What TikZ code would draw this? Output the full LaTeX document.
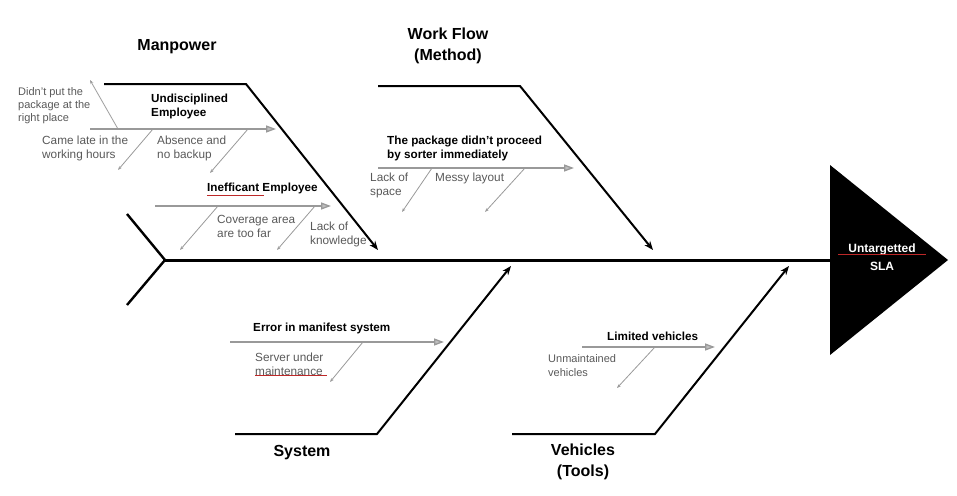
\documentclass[tikz,border=0pt]{standalone}
\usepackage{fontspec}
\setmainfont{Liberation Sans}
\usetikzlibrary{arrows.meta}
\definecolor{spellred}{RGB}{190,40,40}
\begin{document}
\begin{tikzpicture}[x=1pt,y=-1pt,
  spine/.style={line width=3pt, black},
  bone/.style={line width=2pt, black},
  bonearrow/.style={bone, -{Stealth[length=9pt,width=7pt]}},
  cause/.style={line width=1.3pt, black!40, -{Triangle[length=10pt,width=7pt,fill=black!25]}},
  sub/.style={line width=0.8pt, black!40, -{Stealth[length=4pt,width=3pt]}},
  boneLabel/.style={font=\bfseries\fontsize{16}{21}\selectfont, align=center, inner sep=0},
  causeLabel/.style={font=\bfseries\fontsize{11.7}{14}\selectfont, align=left, inner sep=0, anchor=west},
  subLabel/.style={font=\fontsize{11.8}{14}\selectfont, text=black!65, align=left, inner sep=0, anchor=west},
  spell/.style={draw=spellred, line width=0.7pt}
]
\useasboundingbox (0,0) rectangle (957,495);

% spine, tail, head
\coordinate (tailTop) at (127,214);
\coordinate (tailBot) at (127,305);
\coordinate (spineStart) at (165,260);
\coordinate (headBase) at (830,260);
\coordinate (headTop) at (830,165);
\coordinate (headTip) at (948,260);
\coordinate (headBot) at (830,355);
\fill[black] (headTop) -- (headTip) -- (headBot) -- cycle;
\draw[spine] (spineStart) -- (headBase);
\draw[bone, line width=2.4pt] (tailTop) -- (spineStart) -- (tailBot);
\node[font=\bfseries\fontsize{12}{18}\selectfont, text=white, align=center, inner sep=0] (effect) at (882,257) {Untargetted\\SLA};
\draw[spell] (838,254.5) -- (926,254.5);

% Manpower
\coordinate (mpA) at (104,84);
\coordinate (mpB) at (246,84);
\coordinate (mpEnd) at (378,250);
\draw[bonearrow] (mpA) -- (mpB) -- (mpEnd);
\node[boneLabel] (mpLabel) at (177,47) {Manpower};

\coordinate (c1s) at (90,129);
\coordinate (c1e) at (276,129);
\draw[cause] (c1s) -- (c1e);
\node[causeLabel] (c1Label) at (151,106.5) {Undisciplined\\Employee};
\coordinate (s11a) at (118,129); \coordinate (s11b) at (90,80);
\draw[sub] (s11a) -- (s11b);
\node[subLabel, font=\fontsize{11}{13}\selectfont] (s11Label) at (18,105.5) {Didn't put the\\package at the\\right place};
\coordinate (s12a) at (153,129); \coordinate (s12b) at (118,170);
\draw[sub] (s12a) -- (s12b);
\node[subLabel] (s12Label) at (42,148) {Came late in the\\working hours};
\coordinate (s13a) at (248,129); \coordinate (s13b) at (210,173);
\draw[sub] (s13a) -- (s13b);
\node[subLabel] (s13Label) at (157,148) {Absence and\\no backup};

\coordinate (c2s) at (155,206);
\coordinate (c2e) at (331,206);
\draw[cause] (c2s) -- (c2e);
\node[causeLabel] (c2Label) at (207,188) {Inefficant Employee};
\draw[spell] (207,195) -- (264,195);
\coordinate (s21a) at (218,206); \coordinate (s21b) at (180,250);
\draw[sub] (s21a) -- (s21b);
\node[subLabel] (s21Label) at (217,226.5) {Coverage area\\are too far};
\coordinate (s22a) at (315,206); \coordinate (s22b) at (277,250);
\draw[sub] (s22a) -- (s22b);
\node[subLabel] (s22Label) at (310,234.5) {Lack of\\knowledge};

% Work Flow
\coordinate (wfA) at (378,86);
\coordinate (wfB) at (520,86);
\coordinate (wfEnd) at (653,250);
\draw[bonearrow] (wfA) -- (wfB) -- (wfEnd);
\node[boneLabel] (wfLabel) at (448,46) {Work Flow\\(Method)};

\coordinate (c3s) at (378,168);
\coordinate (c3e) at (574,168);
\draw[cause] (c3s) -- (c3e);
\node[causeLabel] (c3Label) at (387,148) {The package didn't proceed\\by sorter immediately};
\coordinate (s31a) at (432,168); \coordinate (s31b) at (402,212);
\draw[sub] (s31a) -- (s31b);
\node[subLabel] (s31Label) at (370,185.5) {Lack of\\space};
\coordinate (s32a) at (525,168); \coordinate (s32b) at (485,212);
\draw[sub] (s32a) -- (s32b);
\node[subLabel] (s32Label) at (435,178) {Messy layout};

% System
\coordinate (syA) at (235,434);
\coordinate (syB) at (377,434);
\coordinate (syEnd) at (511,266);
\draw[bonearrow] (syA) -- (syB) -- (syEnd);
\node[boneLabel] (syLabel) at (302,453) {System};

\coordinate (c4s) at (230,342);
\coordinate (c4e) at (444,342);
\draw[cause] (c4s) -- (c4e);
\node[causeLabel] (c4Label) at (253,328) {Error in manifest system};
\coordinate (s41a) at (363,342); \coordinate (s41b) at (330,382);
\draw[sub] (s41a) -- (s41b);
\node[subLabel] (s41Label) at (255,364.5) {Server under\\maintenance};
\draw[spell] (255,375.5) -- (327,375.5);

% Vehicles
\coordinate (veA) at (512,434);
\coordinate (veB) at (655,434);
\coordinate (veEnd) at (789,266);
\draw[bonearrow] (veA) -- (veB) -- (veEnd);
\node[boneLabel] (veLabel) at (583,462) {Vehicles\\(Tools)};

\coordinate (c5s) at (582,347);
\coordinate (c5e) at (715,347);
\draw[cause] (c5s) -- (c5e);
\node[causeLabel] (c5Label) at (607,336) {Limited vehicles};
\coordinate (s51a) at (655,347); \coordinate (s51b) at (617,388);
\draw[sub] (s51a) -- (s51b);
\node[subLabel, font=\fontsize{11}{14}\selectfont] (s51Label) at (548,366) {Unmaintained\\vehicles};
\end{tikzpicture}
\end{document}
